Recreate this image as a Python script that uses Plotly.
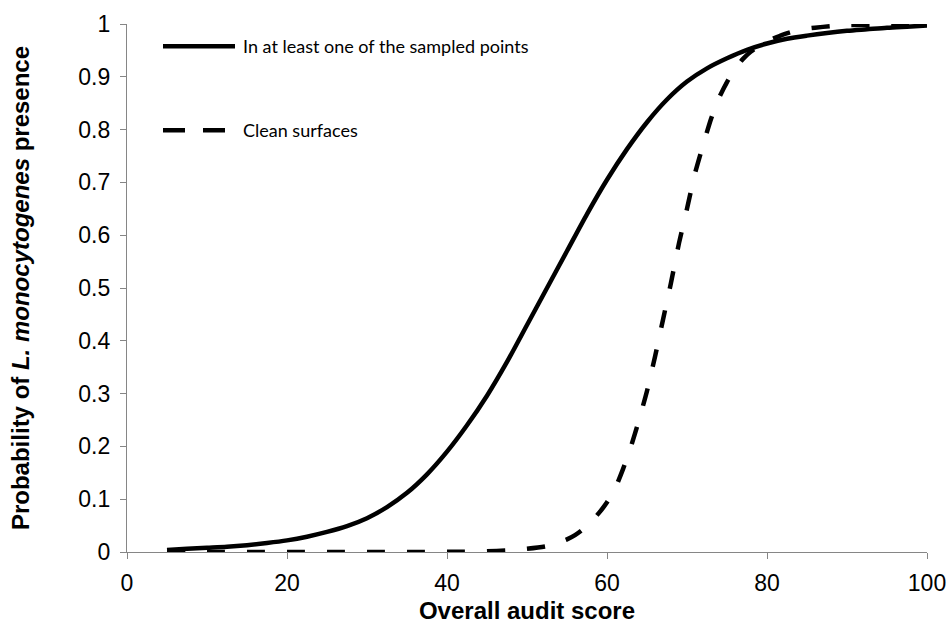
import plotly.graph_objects as go

# Overall audit score (x) and modelled probability of L. monocytogenes presence
score_any = [5, 7.5, 10, 12.5, 15, 17.5, 20, 22.5, 25, 27.5, 30, 32.5, 35, 37.5,
             40, 42.5, 45, 47.5, 50, 52.5, 55, 57.5, 60, 62.5, 65, 67.5, 70, 72.5,
             75, 77.5, 80, 82.5, 85, 87.5, 90, 92.5, 95, 97.5, 100]
prob_any = [0.004, 0.006, 0.008, 0.010, 0.013, 0.017, 0.022, 0.029, 0.038, 0.049,
            0.064, 0.085, 0.112, 0.147, 0.190, 0.240, 0.296, 0.360, 0.430, 0.500,
            0.570, 0.640, 0.705, 0.763, 0.814, 0.857, 0.891, 0.916, 0.935, 0.951,
            0.963, 0.972, 0.978, 0.983, 0.987, 0.990, 0.993, 0.995, 0.997]

score_clean = [5, 10, 15, 20, 25, 30, 35, 40, 45, 47.5, 50, 52.5, 55, 56, 57, 58,
               59, 60, 61, 62, 63, 64, 65, 66, 67, 68, 69, 70, 71, 72, 73, 74, 75,
               76, 77, 78, 80, 82, 84, 86, 88, 90, 95, 100]
prob_clean = [0.0, 0.0, 0.0, 0.0, 0.0, 0.0, 0.0, 0.0003, 0.0013, 0.003, 0.006,
              0.011, 0.024, 0.032, 0.043, 0.057, 0.074, 0.094, 0.120, 0.157, 0.200,
              0.250, 0.305, 0.370, 0.440, 0.510, 0.585, 0.650, 0.717, 0.770, 0.820,
              0.860, 0.890, 0.915, 0.934, 0.948, 0.967, 0.980, 0.989, 0.993, 0.996,
              0.998, 0.999, 1.0]

series_names = ["In at least one of the sampled points", "Clean surfaces"]

x_ticks = [0, 20, 40, 60, 80, 100]
y_ticks = [0, 0.1, 0.2, 0.3, 0.4, 0.5, 0.6, 0.7, 0.8, 0.9, 1]
y_tick_text = ["0", "0.1", "0.2", "0.3", "0.4", "0.5", "0.6", "0.7", "0.8", "0.9", "1"]

AXIS_GREY = "#868686"
LINE_W = 4.5
DASH = "18px,22px"

fig = go.Figure()
fig.add_trace(go.Scatter(x=score_any, y=prob_any, mode="lines",
                         line=dict(color="black", width=LINE_W, shape="spline",
                                   smoothing=0.8),
                         name=series_names[0], showlegend=False))
fig.add_trace(go.Scatter(x=score_clean, y=prob_clean, mode="lines",
                         line=dict(color="black", width=LINE_W, dash=DASH,
                                   shape="spline", smoothing=0.6),
                         name=series_names[1], showlegend=False))

# Hand-drawn legend inside the plot area, top-left
legend_rows = [(0.958, "solid", 13.5), (0.799, "22px,18px", 12.5)]
for (ly, dash, xend), label in zip(legend_rows, series_names):
    fig.add_shape(type="line", xref="x", yref="y", x0=4.5, x1=xend, y0=ly, y1=ly,
                  line=dict(color="black", width=LINE_W, dash=dash))
    fig.add_annotation(x=14.2, y=ly, xref="x", yref="y", text=label,
                       showarrow=False, xanchor="left", yanchor="middle",
                       font=dict(family="Lato", size=18, color="black"))

tick_font = dict(family="Liberation Sans, Arial", size=23, color="black")
title_font = dict(family="Liberation Sans, Arial", size=24, color="black")

fig.update_xaxes(range=[0, 100], tickvals=x_ticks, ticks="outside", ticklen=6,
                 tickwidth=1.3, tickcolor=AXIS_GREY, showline=True,
                 linecolor=AXIS_GREY, linewidth=1.3, showgrid=False, zeroline=False,
                 tickfont=tick_font, ticklabelstandoff=4,
                 title=dict(text="<b>Overall audit score</b>", font=title_font,
                            standoff=7))
fig.update_yaxes(range=[0, 1], tickvals=y_ticks, ticktext=y_tick_text,
                 ticks="outside", ticklen=6, tickwidth=1.3, tickcolor=AXIS_GREY,
                 showline=True, linecolor=AXIS_GREY, linewidth=1.3, showgrid=False,
                 zeroline=False, tickfont=tick_font, ticklabelstandoff=5,
                 title=dict(text="<b>Probability of <i>L. monocytogenes</i> presence</b>",
                            font=title_font, standoff=41))

fig.update_layout(width=949, height=625, plot_bgcolor="white", paper_bgcolor="white",
                  margin=dict(l=127, r=22, t=24, b=73, autoexpand=False),
                  showlegend=False)

fig.write_html("out.html")
